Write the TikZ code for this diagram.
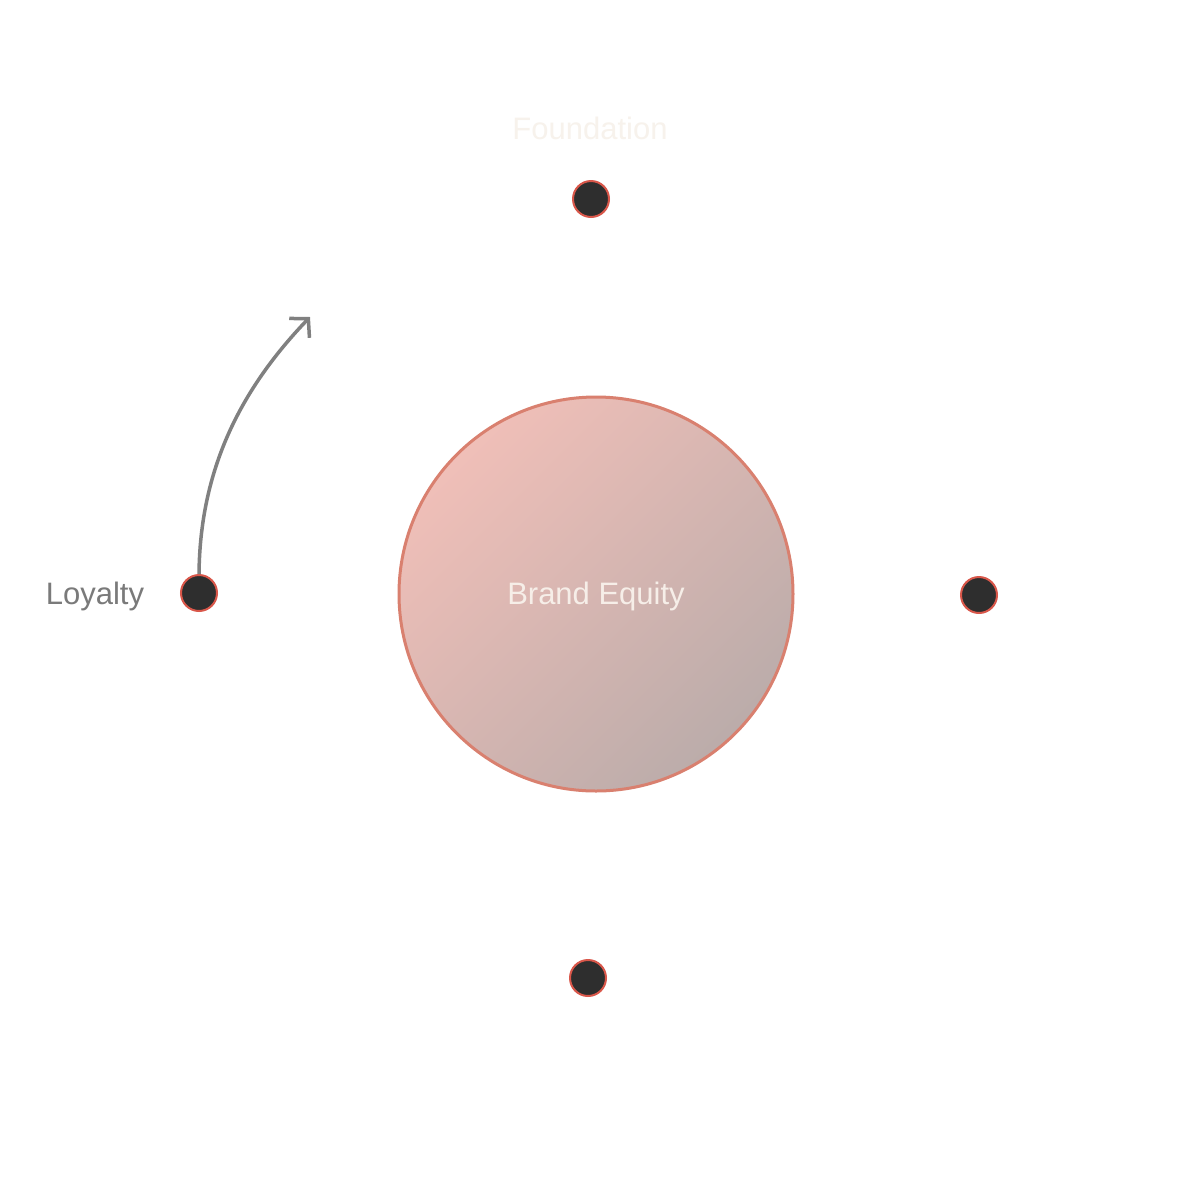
\documentclass[tikz,border=0pt]{standalone}
\usepackage{fontspec}
\setmainfont{Liberation Sans}
\usetikzlibrary{arrows.meta}
\definecolor{ringred}{HTML}{D9806F}
\definecolor{gradA}{HTML}{F0BFB8}
\definecolor{gradB}{HTML}{BBACAA}
\definecolor{dotfill}{HTML}{2E2E2E}
\definecolor{dotring}{HTML}{D9574A}
\definecolor{labgray}{HTML}{7A7A7A}
\definecolor{arrgray}{HTML}{808080}
\definecolor{paletext}{HTML}{F7F2EC}
\definecolor{coretext}{HTML}{F6EEE8}
\tikzset{
  hub/.style={circle, draw=ringred, line width=3pt, minimum size=394pt, inner sep=0pt,
    top color=gradA, bottom color=gradB, shading angle=45},
  dotnode/.style={circle, fill=dotfill, draw=dotring, line width=2pt, minimum size=36pt, inner sep=0pt},
  lab/.style={font=\fontsize{31}{36}\selectfont, inner sep=0pt},
  flow/.style={draw=arrgray, line width=3.5pt, -{Straight Barb[length=13pt,width=28pt,line width=3.5pt]}}
}
\begin{document}
\begin{tikzpicture}[x=1pt,y=-1pt]
\useasboundingbox (0,0) rectangle (1200,1176);
\fill[white] (0,0) rectangle (1200,1176);
\node[hub] (core) at (596,594) {};
\node[lab, text=coretext] (coretxt) at (596,596) {Brand Equity};
\node[dotnode] (top) at (591,199) {};
\node[dotnode] (left) at (199,593) {};
\node[dotnode] (right) at (979,595) {};
\node[dotnode] (bottom) at (588,978) {};
\node[lab, text=paletext] (found) at (590,128) {Foundation};
\node[lab, text=labgray] (loy) at (95,596) {Loyalty};
\coordinate (arrend) at (310,317);
\draw[flow] (left.north) .. controls (200,470) and (240,390) .. (arrend);
\end{tikzpicture}
\end{document}
